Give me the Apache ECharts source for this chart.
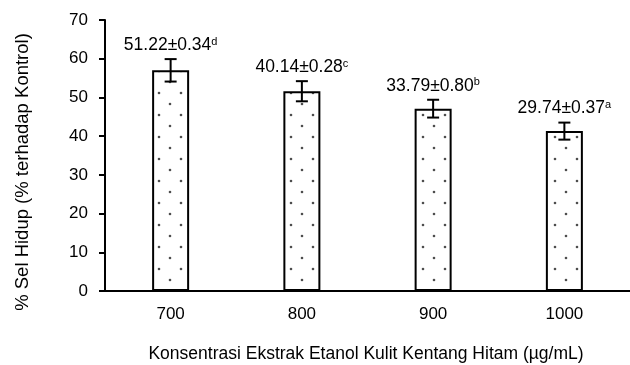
<!DOCTYPE html>
<html>
<head>
<meta charset="utf-8">
<script src="https://cdn.jsdelivr.net/npm/echarts@6/dist/echarts.min.js"></script>
<style>
  html, body { margin: 0; padding: 0; background: #fff; }
  #chart { width: 630px; height: 365px; }
</style>
</head>
<body>
<div id="chart"></div>
<script>
// Extract concentrations (µg/mL)
const categories = ['700', '800', '900', '1000'];
// Cell viability (% of control) and its error
const viability = [57.0, 51.6, 47.1, 41.3];
const viabilityErr = [2.9, 2.6, 2.3, 2.2];
// Annotation text above each bar: mean ± SD with significance letter
const annotMean = ['51.22', '40.14', '33.79', '29.74'];
const annotSd = ['0.34', '0.28', '0.80', '0.37'];
const annotLetter = ['d', 'c', 'b', 'a'];
// Y axis
const yMin = 0, yMax = 70, yStep = 10;

const FONT = '"Liberation Sans", Arial, sans-serif';

// Dotted fill pattern for the bars
function dotPattern() {
  const c = document.createElement('canvas');
  c.width = 22; c.height = 22;
  const g = c.getContext('2d');
  g.fillStyle = '#ffffff';
  g.fillRect(0, 0, 22, 22);
  g.fillStyle = '#4d4d4d';
  g.beginPath(); g.arc(5, 5, 1.3, 0, Math.PI * 2); g.fill();
  g.beginPath(); g.arc(16, 16, 1.3, 0, Math.PI * 2); g.fill();
  return c;
}

const chart = echarts.init(document.getElementById('chart'), null, { renderer: 'canvas' });

const errData = categories.map((c, i) => [i, viability[i], viabilityErr[i]]);

chart.setOption({
  animation: false,
  backgroundColor: '#ffffff',
  grid: { left: 105, right: -1, top: 20, bottom: 74, containLabel: false },
  xAxis: {
    type: 'category',
    data: categories,
    axisLine: { lineStyle: { color: '#000', width: 2 } },
    axisTick: { alignWithLabel: true, length: 5, lineStyle: { color: '#000', width: 2 } },
    axisLabel: { color: '#000', fontFamily: FONT, fontSize: 17, margin: 15 },
    splitLine: { show: false }
  },
  yAxis: {
    type: 'value',
    min: yMin, max: yMax, interval: yStep,
    axisLine: { show: true, lineStyle: { color: '#000', width: 2 } },
    axisTick: { show: true, length: 6, lineStyle: { color: '#000', width: 2 } },
    axisLabel: { color: '#000', fontFamily: FONT, fontSize: 17, margin: 17 },
    splitLine: { show: false }
  },
  graphic: [
    {
      type: 'text',
      x: 366, y: 354,
      style: {
        text: 'Konsentrasi Ekstrak Etanol Kulit Kentang Hitam (µg/mL)',
        fill: '#000', font: '17.5px ' + FONT,
        align: 'center', verticalAlign: 'middle'
      }
    },
    {
      type: 'text',
      x: 23, y: 172,
      rotation: Math.PI / 2,
      style: {
        text: '% Sel Hidup (% terhadap Kontrol)',
        fill: '#000', font: '18.5px ' + FONT,
        align: 'center', verticalAlign: 'middle'
      }
    }
  ],
  series: [
    {
      type: 'bar',
      data: viability,
      barWidth: 37,
      itemStyle: {
        color: { image: dotPattern(), repeat: 'repeat' },
        borderColor: '#000',
        borderWidth: 2
      },
      z: 2
    },
    {
      type: 'custom',
      data: errData,
      z: 3,
      renderItem: function (params, api) {
        const i = api.value(0);
        const v = api.value(1);
        const e = api.value(2);
        const top = api.coord([i, v + e]);
        const bot = api.coord([i, v - e]);
        const half = 6;
        const ls = { stroke: '#000', lineWidth: 2 };
        return {
          type: 'group',
          children: [
            { type: 'line', shape: { x1: top[0], y1: top[1], x2: bot[0], y2: bot[1] }, style: ls },
            { type: 'line', shape: { x1: top[0] - half, y1: top[1], x2: top[0] + half, y2: top[1] }, style: ls },
            { type: 'line', shape: { x1: bot[0] - half, y1: bot[1], x2: bot[0] + half, y2: bot[1] }, style: ls },
            {
              type: 'text',
              x: top[0], y: top[1] - 5,
              style: {
                text: '{v|' + annotMean[i] + '±' + annotSd[i] + '}{s|' + annotLetter[i] + '}',
                align: 'center', verticalAlign: 'bottom',
                rich: {
                  v: { fontFamily: FONT, fontSize: 17.5, fill: '#000', color: '#000' },
                  s: { fontFamily: FONT, fontSize: 11, fill: '#000', color: '#000', verticalAlign: 'top', padding: [0, 0, 7, 0] }
                }
              }
            }
          ]
        };
      }
    }
  ]
});
</script>
</body>
</html>
